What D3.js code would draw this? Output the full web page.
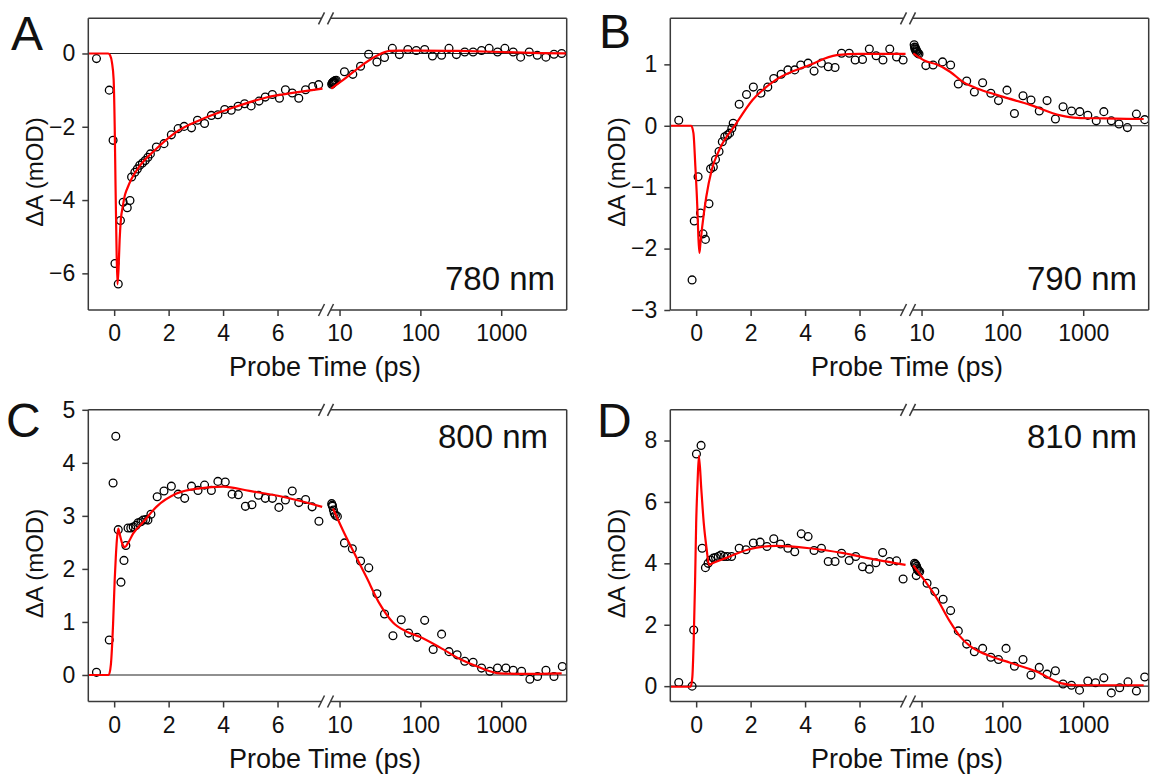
<!DOCTYPE html>
<html>
<head>
<meta charset="utf-8">
<script src="https://cdn.jsdelivr.net/npm/d3@7"></script>
<style>
  body { margin: 0; background: #fff; }
  text { font-family: Arial, "Liberation Sans", sans-serif; fill: #111; }
</style>
</head>
<body>
<svg id="chart" width="1150" height="778"></svg>
<script>
// ---- data: [time (ps), dA (mOD)] ----
const panelNames = ['A', 'B', 'C', 'D'];
const wavelengths = ['780 nm', '790 nm', '800 nm', '810 nm'];
const linTicks = [0, 2, 4, 6];
const logTicks = [10, 100, 1000];
const yTicksA = [0, -2, -4, -6];
const yTicksB = [1, 0, -1, -2, -3];
const yTicksC = [0, 1, 2, 3, 4, 5];
const yTicksD = [0, 2, 4, 6, 8];

const dataA = [[-0.65,-0.14],[-0.18,-1.0],[-0.04,-2.37],[0.03,-5.73],[0.15,-6.29],[0.23,-4.56],[0.33,-4.06],[0.48,-4.21],[0.58,-4.01],[0.64,-3.37],[0.76,-3.24],[0.85,-3.15],[0.94,-3.05],[1.04,-2.99],[1.14,-2.92],[1.24,-2.83],[1.33,-2.74],[1.55,-2.55],[1.83,-2.46],[2.10,-2.22],[2.35,-2.05],[2.57,-1.99],[2.84,-2.03],[3.06,-1.82],[3.32,-1.91],[3.57,-1.69],[3.81,-1.67],[4.06,-1.53],[4.30,-1.55],[4.55,-1.44],[4.79,-1.37],[5.03,-1.43],[5.32,-1.30],[5.55,-1.19],[5.81,-1.12],[6.07,-1.22],[6.29,-0.99],[6.54,-1.08],[6.78,-1.22],[7.03,-0.99],[7.29,-0.90],[7.51,-0.85],
  [8.0,-0.84],[8.1,-0.81],[8.2,-0.80],[8.3,-0.79],[8.4,-0.78],[8.5,-0.77],[8.6,-0.76],[8.8,-0.74],[9.1,-0.73],[11.5,-0.50],[14.6,-0.57],[18.2,-0.35],[22.9,-0.02],[29,-0.23],[36,-0.11],[45,0.14],[55,-0.03],[70,0.11],[89,0.08],[113,0.11],[141,-0.07],[183,-0.05],[226,0.14],[279,-0.03],[354,0.04],[449,0.04],[571,0.08],[709,0.14],[901,0.04],[1110,0.14],[1407,0.04],[1738,-0.10],[2222,0.04],[2792,-0.05],[3575,-0.10],[4498,-0.02],[5600,0.0]];
const fitA = [[-0.95,0],[-0.22,0],[-0.15,-0.05],[-0.08,-0.25],[-0.02,-0.7],[0.02,-2.0],[0.05,-3.6],[0.08,-5.0],[0.12,-6.3],[0.16,-5.9],[0.2,-5.1],[0.25,-4.5],[0.31,-4.2],[0.4,-3.85],[0.5,-3.65],[0.64,-3.42],[0.94,-3.07],[1.55,-2.6],[2.29,-2.14],[3.14,-1.82],[4.36,-1.48],[5.59,-1.2],[6.81,-1.05],[7.65,-0.96],
  [7.9,-0.96],[11,-0.73],[17.7,-0.37],[28.5,-0.07],[41.7,0.07],[55,0.08],[100,0.08],[300,0.07],[1000,0.04],[3000,0.01],[6400,0.0]];

const dataB = [[-0.64,0.09],[-0.15,-2.51],[-0.07,-1.55],[0.07,-0.83],[0.16,-1.42],[0.25,-1.76],[0.34,-1.85],[0.47,-1.27],[0.53,-0.70],[0.63,-0.67],[0.71,-0.55],[0.84,-0.42],[0.96,-0.26],[1.05,-0.18],[1.15,-0.15],[1.23,-0.12],[1.31,-0.04],[1.36,0.04],[1.58,0.35],[1.85,0.51],[2.10,0.63],[2.38,0.53],[2.63,0.63],[2.85,0.77],[3.12,0.84],[3.37,0.91],[3.62,0.91],[3.84,0.99],[4.11,1.02],[4.33,0.89],[4.60,1.02],[4.85,0.96],[5.10,0.95],[5.34,1.18],[5.62,1.18],[5.84,1.07],[6.11,1.08],[6.36,1.25],[6.61,1.14],[6.86,1.07],[7.11,1.25],[7.36,1.12],[7.60,1.07],
  [8.1,1.32],[8.2,1.28],[8.3,1.25],[8.4,1.27],[8.5,1.22],[8.6,1.24],[8.7,1.2],[8.8,1.21],[9.0,1.18],[9.3,1.17],[11.3,0.98],[13.9,0.99],[18.2,1.04],[22.9,0.99],[28.5,0.68],[36.2,0.73],[45,0.55],[57,0.70],[72,0.53],[89.5,0.41],[114,0.58],[141,0.20],[180,0.49],[226,0.42],[286,0.24],[357,0.41],[453,0.11],[563,0.31],[716,0.24],[907,0.23],[1140,0.17],[1450,0.08],[1800,0.23],[2228,0.08],[2770,0.03],[3520,-0.03],[4550,0.19],[5770,0.10]];
const fitB = [[-0.95,0],[-0.18,0],[-0.1,-0.12],[-0.03,-0.66],[0.04,-1.3],[0.08,-1.8],[0.12,-2.07],[0.16,-1.9],[0.22,-1.65],[0.37,-1.16],[0.57,-0.72],[0.84,-0.40],[1.43,0.01],[2.07,0.42],[2.94,0.75],[4.17,0.99],[5.16,1.15],[6.0,1.17],[7.69,1.17],
  [7.9,1.18],[11,1.06],[15.3,1.0],[22.5,0.88],[32.9,0.71],[53,0.59],[103,0.47],[221,0.34],[522,0.17],[841,0.13],[1800,0.12],[5600,0.11]];

const dataC = [[-0.65,0.05],[-0.18,0.66],[-0.04,3.62],[0.06,4.50],[0.15,2.74],[0.25,1.75],[0.36,2.16],[0.43,2.44],[0.51,2.77],[0.61,2.77],[0.70,2.79],[0.80,2.82],[0.88,2.87],[0.98,2.89],[1.06,2.92],[1.16,2.93],[1.24,2.92],[1.35,3.03],[1.58,3.36],[1.83,3.47],[2.10,3.56],[2.35,3.41],[2.59,3.33],[2.84,3.56],[3.08,3.48],[3.32,3.58],[3.57,3.48],[3.81,3.65],[4.08,3.64],[4.33,3.41],[4.56,3.40],[4.82,3.18],[5.06,3.21],[5.30,3.39],[5.55,3.33],[5.81,3.33],[6.05,3.16],[6.29,3.30],[6.54,3.47],[6.78,3.25],[7.03,3.31],[7.27,3.17],[7.52,2.90],
  [8.0,3.23],[8.1,3.2],[8.2,3.18],[8.4,3.11],[8.6,3.05],[8.9,3.01],[9.4,2.99],[11.5,2.49],[14.4,2.38],[18.2,2.15],[23,2.02],[29,1.53],[36,1.15],[45.8,0.74],[58,1.04],[71.6,0.79],[90.8,0.71],[113,1.03],[144,0.48],[183,0.77],[226,0.44],[285,0.38],[354,0.26],[449,0.24],[571,0.13],[724,0.07],[901,0.13],[1143,0.13],[1407,0.09],[1786,0.07],[2264,-0.08],[2818,-0.03],[3575,0.09],[4498,-0.03],[5700,0.16]];
const fitC = [[-0.95,0],[-0.2,0],[-0.12,0.2],[-0.04,0.96],[0.02,1.8],[0.06,2.22],[0.1,2.55],[0.15,2.76],[0.22,2.62],[0.3,2.47],[0.39,2.41],[0.5,2.48],[0.7,2.67],[1.06,2.88],[1.55,3.17],[2.29,3.42],[3.14,3.52],[4.0,3.55],[4.97,3.47],[6.19,3.36],[7.64,3.17],
  [8.3,3.14],[11,2.73],[14.6,2.35],[21.4,1.85],[31.4,1.34],[45.8,0.99],[67,0.82],[98,0.72],[174,0.52],[308,0.30],[544,0.14],[961,0.03],[2000,0.02],[5600,0.03]];

const dataD = [[-0.64,0.12],[-0.15,0],[-0.09,1.83],[0.01,7.56],[0.18,7.84],[0.22,4.49],[0.34,3.86],[0.44,4.0],[0.53,4.11],[0.63,4.17],[0.71,4.19],[0.81,4.22],[0.91,4.27],[1.02,4.22],[1.14,4.22],[1.30,4.22],[1.58,4.49],[1.83,4.44],[2.10,4.66],[2.35,4.69],[2.60,4.55],[2.85,4.80],[3.10,4.63],[3.37,4.49],[3.62,4.38],[3.86,4.96],[4.11,4.87],[4.33,4.42],[4.60,4.49],[4.85,4.06],[5.10,4.06],[5.34,4.33],[5.62,4.09],[5.86,4.22],[6.11,3.89],[6.36,3.81],[6.60,4.02],[6.85,4.35],[7.10,4.06],[7.36,4.08],[7.60,3.49],
  [8.2,4.0],[8.4,3.97],[8.5,3.95],[8.6,3.6],[8.7,3.9],[8.8,3.85],[8.9,3.8],[9.2,3.75],[9.5,3.73],[11.7,3.35],[14.6,3.08],[18.5,2.83],[22.9,2.46],[28.5,1.80],[36.2,1.37],[45,1.12],[57,1.23],[72,0.94],[89.5,0.87],[111,1.23],[141,0.65],[180,0.87],[226,0.36],[286,0.61],[357,0.39],[453,0.50],[563,0.07],[716,0.03],[900,-0.13],[1140,0.17],[1420,0.11],[1800,0.27],[2228,-0.22],[2825,-0.05],[3580,0.14],[4550,-0.16],[5770,0.30]];
const fitD = [[-0.95,-0.02],[-0.2,-0.02],[-0.14,0.3],[-0.09,1.5],[-0.04,3.4],[0.0,5.3],[0.05,6.6],[0.1,7.5],[0.19,6.4],[0.28,5.3],[0.38,4.5],[0.47,3.95],[0.6,4.0],[1.09,4.17],[1.95,4.46],[2.94,4.57],[4.17,4.49],[5.41,4.33],[6.64,4.11],[7.69,3.95],
  [7.9,3.93],[10.5,3.5],[15.3,2.88],[22.5,2.1],[29.9,1.62],[40,1.3],[64,1.02],[125,0.76],[268,0.47],[522,0.1],[841,0.03],[2000,0.03],[5600,0.03]];

const yDomains = [[-7, 0.96], [-3, 1.75], [-0.5, 5], [-0.5, 9]];
const yTickSets = [yTicksA, yTicksB, yTicksC, yTicksD];
const dataSets = [dataA, dataB, dataC, dataD];
const fitSets = [fitA, fitB, fitC, fitD];

// ---- layout ----
const svg = d3.select('#chart');
const L = 88.3, R = 566.7, T = 18.3, B = 310, BRK = 326;
const SPLIT = 7.75;
const offsets = [[0, 0], [582, 0], [0, 391.5], [582, 391.5]];
const letterPos = [[11, 50], [17, 48], [6, 45.5], [15, 45.5]];
const wlPos = [[555, 290], [555, 290], [548, 56.5], [555, 56.5]];

function drawPanel(i) {
  const [dx, dy] = offsets[i];
  const g = svg.append('g').attr('transform', `translate(${dx},${dy})`);

  const xLin = d3.scaleLinear().domain([-0.95, 7.78]).range([L, BRK]);
  const xLog = d3.scaleLog().domain([6.8, 6460]).range([BRK, R]);
  const y = d3.scaleLinear().domain(yDomains[i]).range([B, T]);

  const clipId = 'clip' + i;
  g.append('clipPath').attr('id', clipId)
    .append('rect').attr('x', L).attr('y', T).attr('width', R - L).attr('height', B - T);

  // zero line
  g.append('line')
    .attr('x1', L).attr('x2', R).attr('y1', y(0)).attr('y2', y(0))
    .attr('stroke', '#222').attr('stroke-width', 1.2);

  // points
  const pts = dataSets[i];
  const plot = g.append('g').attr('clip-path', `url(#${clipId})`);
  plot.selectAll('circle.early').data(pts.filter(d => d[0] < SPLIT)).join('circle')
    .attr('cx', d => xLin(d[0])).attr('cy', d => y(d[1])).attr('r', 3.9)
    .attr('fill', 'none').attr('stroke', '#000').attr('stroke-width', 1.3);
  plot.selectAll('circle.late').data(pts.filter(d => d[0] >= SPLIT)).join('circle')
    .attr('cx', d => xLog(d[0])).attr('cy', d => y(d[1])).attr('r', 3.9)
    .attr('fill', 'none').attr('stroke', '#000').attr('stroke-width', 1.3);

  // fit lines
  const fit = fitSets[i];
  const lineLin = d3.line().x(d => xLin(d[0])).y(d => y(d[1])).curve(d3.curveMonotoneX);
  const lineLog = d3.line().x(d => xLog(d[0])).y(d => y(d[1])).curve(d3.curveMonotoneX);
  plot.append('path').attr('d', lineLin(fit.filter(d => d[0] < SPLIT)))
    .attr('fill', 'none').attr('stroke', '#ff0000').attr('stroke-width', 2.2);
  plot.append('path').attr('d', lineLog(fit.filter(d => d[0] >= SPLIT)))
    .attr('fill', 'none').attr('stroke', '#ff0000').attr('stroke-width', 2.2);

  // frame with axis break
  const fc = '#3a3a3a', fw = 1.5;
  const frame = g.append('g').attr('stroke', fc).attr('stroke-width', fw).attr('fill', 'none');
  frame.append('line').attr('x1', L).attr('x2', L).attr('y1', T).attr('y2', B);
  frame.append('line').attr('x1', R).attr('x2', R).attr('y1', T).attr('y2', B);
  [T, B].forEach(yy => {
    frame.append('line').attr('x1', L).attr('x2', BRK - 4.5).attr('y1', yy).attr('y2', yy);
    frame.append('line').attr('x1', BRK + 4.5).attr('x2', R).attr('y1', yy).attr('y2', yy);
    [-4.5, 4.5].forEach(o => {
      frame.append('line')
        .attr('x1', BRK + o - 3).attr('y1', yy + 6)
        .attr('x2', BRK + o + 3).attr('y2', yy - 6);
    });
  });

  // axes
  const styleAxis = sel => {
    sel.select('.domain').remove();
    sel.selectAll('.tick line').attr('stroke', fc).attr('stroke-width', fw);
    sel.selectAll('.tick text').attr('font-size', 23).attr('fill', '#111')
      .style('font-family', 'Arial, "Liberation Sans", sans-serif');
  };
  g.append('g').attr('transform', `translate(${L},0)`)
    .call(d3.axisLeft(y).tickValues(yTickSets[i]).tickSize(6).tickPadding(7)
      .tickFormat(d3.format('d')))
    .call(styleAxis);
  g.append('g').attr('transform', `translate(0,${B})`)
    .call(d3.axisBottom(xLin).tickValues(linTicks).tickSize(6).tickPadding(9))
    .call(styleAxis);
  g.append('g').attr('transform', `translate(0,${B})`)
    .call(d3.axisBottom(xLog).tickValues(logTicks).tickSize(6).tickPadding(9)
      .tickFormat(d3.format('d')))
    .call(styleAxis);

  // axis titles
  g.append('text').attr('x', 325).attr('y', 376).attr('text-anchor', 'middle')
    .attr('font-size', 27).text('Probe Time (ps)');
  g.append('text').attr('transform', 'translate(43,172) rotate(-90)')
    .attr('text-anchor', 'middle').attr('font-size', 24).text('ΔA (mOD)');

  // panel letter and wavelength
  g.append('text').attr('x', letterPos[i][0]).attr('y', letterPos[i][1])
    .attr('font-size', 48).text(panelNames[i]);
  g.append('text').attr('x', wlPos[i][0]).attr('y', wlPos[i][1]).attr('text-anchor', 'end')
    .attr('font-size', 33).text(wavelengths[i]);
}

[0, 1, 2, 3].forEach(drawPanel);
</script>
</body>
</html>
